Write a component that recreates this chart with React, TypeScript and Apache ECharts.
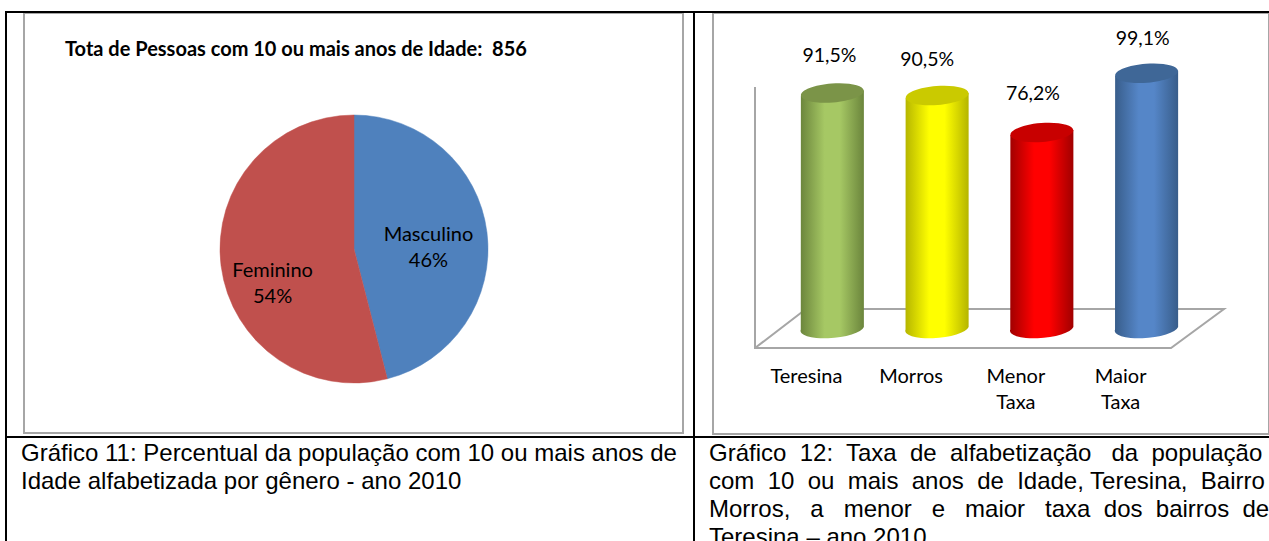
import React, { useEffect, useRef } from "react";
import * as echarts from "echarts";

const pieNames = ["Masculino", "Feminino"];
const pieValues = [46, 54];
const pieColors = ["#4f81bd", "#c0504d"];
const pieTitle = "Tota de Pessoas com 10 ou mais anos de Idade:  856";

const barCategories = ["Teresina", "Morros", "Menor\nTaxa", "Maior\nTaxa"];
const barValues = [91.5, 90.5, 76.2, 99.1];
const barLabels = ["91,5%", "90,5%", "76,2%", "99,1%"];
const barEdge = ["#6b853c", "#b5b500", "#a00000", "#385d8a"];
const barMid = ["#a6c864", "#ffff00", "#ff0000", "#5586c8"];
const barTop = ["#7b9448", "#caca00", "#c80000", "#3f6797"];
const labelNudge = [-3, -10, -9, -4];
const labelLift = [38, 37.5, 40.5, 36.3];

const captionLeft = [
  "Gráfico 11: Percentual da população com 10 ou mais anos de",
  "Idade alfabetizada por gênero - ano 2010",
];
const captionRight = [
  "Gráfico  12:  Taxa  de  alfabetização   da  população",
  "com  10  ou  mais  anos  de  Idade, Teresina,  Bairro",
  "Morros,   a   menor   e   maior   taxa  dos  bairros  de",
  "Teresina – ano 2010",
];

const GRAY = "#a6a6a6";
const LABEL_FONT = "Lato, Carlito, sans-serif";
const CAPTION_FONT = "'Liberation Sans', Arial, sans-serif";

function blackLine(x1: number, y1: number, x2: number, y2: number) {
  return {
    type: "line",
    z: 0,
    shape: { x1, y1, x2, y2 },
    style: { stroke: "#000", lineWidth: 2 },
  };
}

function frame(x: number, y: number, width: number, height: number) {
  return {
    type: "rect",
    z: 0,
    shape: { x, y, width, height },
    style: { fill: "#fff", stroke: GRAY, lineWidth: 2 },
  };
}

function captionText(text: string, x: number, y: number) {
  return {
    type: "text",
    z: 1,
    x,
    y,
    style: {
      text,
      fill: "#000",
      font: `24px ${CAPTION_FONT}`,
      verticalAlign: "middle",
    },
  };
}

function renderCylinder(params: any, api: any) {
  const i = api.value(0);
  const top = api.coord([i, api.value(1)]);
  const base = api.coord([i, 0]);
  const cx = top[0];
  const rx = 31.5;
  const ry = 9.5;
  const tiltDeg = 4.5;
  const lift = rx * Math.sin((tiltDeg * Math.PI) / 180);
  const body =
    `M ${cx - rx} ${top[1] + lift} L ${cx + rx} ${top[1] - lift} ` +
    `L ${cx + rx} ${base[1] - lift} ` +
    `A ${rx} ${ry} ${-tiltDeg} 0 1 ${cx - rx} ${base[1] + lift} Z`;
  return {
    type: "group",
    children: [
      {
        type: "path",
        shape: { pathData: body },
        style: {
          fill: new echarts.graphic.LinearGradient(0, 0, 1, 0, [
            { offset: 0, color: barEdge[i] },
            { offset: 0.38, color: barMid[i] },
            { offset: 0.62, color: barMid[i] },
            { offset: 1, color: barEdge[i] },
          ]),
        },
      },
      {
        type: "ellipse",
        x: cx,
        y: top[1],
        rotation: (tiltDeg * Math.PI) / 180,
        shape: { cx: 0, cy: 0, rx, ry },
        style: { fill: barTop[i] },
      },
      {
        type: "text",
        x: cx + labelNudge[i],
        y: top[1] - labelLift[i],
        style: {
          text: barLabels[i],
          fill: "#000",
          font: `19.5px ${LABEL_FONT}`,
          align: "center",
          verticalAlign: "middle",
        },
      },
    ],
  };
}

export default function App() {
  const ref = useRef<HTMLDivElement>(null);
  useEffect(() => {
    if (!ref.current) return;
    const chart = echarts.init(ref.current, undefined, { renderer: "svg" });
    chart.setOption({
      animation: false,
      backgroundColor: "#fff",
      grid: { left: 780, width: 419, top: 71, height: 258.5 },
      xAxis: {
        type: "category",
        data: barCategories,
        axisLine: { show: false },
        axisTick: { show: false },
        axisLabel: {
          color: "#000",
          fontFamily: LABEL_FONT,
          fontSize: 20,
          lineHeight: 26,
          margin: 32,
          padding: [0, 52, 0, 0],
          interval: 0,
        },
      },
      yAxis: { type: "value", min: 0, max: 100, show: false },
      graphic: {
        elements: [
          frame(24, 13, 659, 420),
          frame(713, 13, 556, 421),
          blackLine(5, 12, 1269, 12),
          blackLine(6, 12, 6, 541),
          blackLine(694, 12, 694, 541),
          blackLine(6, 437, 1269, 437),
          {
            type: "polyline",
            z: 1,
            shape: { points: [[755, 87], [755, 348], [1171, 348], [1224, 309], [806, 309], [755, 348]] },
            style: { stroke: GRAY, lineWidth: 2, fill: "none" },
          },
          {
            type: "text",
            z: 1,
            x: 65,
            y: 48,
            style: {
              text: pieTitle,
              fill: "#000",
              font: `bold 20px ${LABEL_FONT}`,
              verticalAlign: "middle",
            },
          },
          ...captionLeft.map((t, i) => captionText(t, 21, 452 + i * 28)),
          ...captionRight.map((t, i) => captionText(t, 709, 452 + i * 28)),
        ],
      },
      series: [
        {
          type: "pie",
          z: 3,
          center: [354, 249],
          radius: [0, 134],
          startAngle: 90,
          clockwise: true,
          data: pieNames.map((name, i) => ({
            name,
            value: pieValues[i],
            itemStyle: { color: pieColors[i], borderColor: pieColors[i], borderWidth: 0.5 },
            label: { offset: i === 0 ? [5, 6] : [-12, 24] },
          })),
          label: {
            show: true,
            position: "inside",
            formatter: "{b}\n{c}%",
            color: "#000",
            fontFamily: LABEL_FONT,
            fontSize: 20,
            lineHeight: 26,
          },
          labelLine: { show: false },
          emphasis: { disabled: true },
        },
        {
          type: "custom",
          z: 3,
          renderItem: renderCylinder,
          data: barValues.map((v, i) => [i, v]),
          encode: { x: 0, y: 1 },
          clip: false,
        },
      ],
    });
    return () => chart.dispose();
  }, []);
  return (
    <div
      ref={ref}
      style={{ position: "absolute", left: 0, top: 0, width: 1269, height: 541, overflow: "hidden" }}
    />
  );
}
